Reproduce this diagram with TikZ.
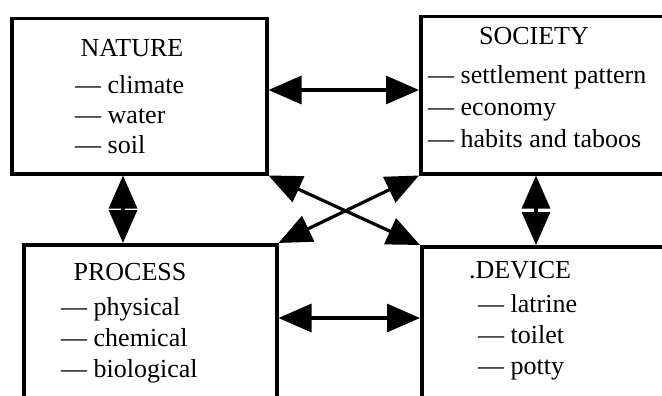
\documentclass[tikz,border=0pt]{standalone}
\usepackage{fontspec}
\setmainfont{Liberation Serif}
\usetikzlibrary{arrows.meta}

\begin{document}
\begin{tikzpicture}[x=1pt,y=-1pt,
  box/.style={draw,line width=3.5pt,anchor=north west,inner sep=0pt},
  title/.style={font=\fontsize{26}{30}\selectfont,anchor=base,inner sep=0pt},
  items/.style={font=\fontsize{26}{31}\selectfont,align=left,anchor=north west,inner sep=0pt},
  link/.style={{Triangle[length=33pt,width=28pt]}-{Triangle[length=33pt,width=28pt]},line width=3.2pt}]
\useasboundingbox (0,0) rectangle (662,396);
\clip (0,0) rectangle (662,396);
% the four boxes
\node[box,minimum width=255pt,minimum height=155pt] (nature)  at (10,17)  {};
\node[box,minimum width=300pt,minimum height=157pt] (society) at (419,15) {};
\node[box,minimum width=253pt,minimum height=200pt] (process) at (22,243)  {};
\node[box,minimum width=300pt,minimum height=200pt] (device)  at (420,245) {};
% texts
\node[title] (natureT)  at (132,57)  {NATURE};
\node[items,font=\fontsize{26}{30}\selectfont] (natureL) at (75,75) {--- climate\\--- water\\--- soil};
\node[title] (societyT) at (534,45)  {SOCIETY};
\node[items,font=\fontsize{26}{32}\selectfont] (societyL) at (428,65) {--- settlement pattern\\--- economy\\--- habits and taboos};
\node[title] (processT) at (130,280) {PROCESS};
\node[items] (processL) at (61,297) {--- physical\\--- chemical\\--- biological};
\node[title,anchor=base west] (deviceT) at (469,278) {.DEVICE};
\node[items] (deviceL) at (478,294) {--- latrine\\--- toilet\\--- potty};
% connectors
\coordinate (lx) at (123,0);
\coordinate (rx) at (536,0);
\coordinate (ty) at (0,90);
\coordinate (by) at (0,318);
\draw[link] (nature.east |- ty) -- (society.west |- ty);
\draw[link] (nature.south -| lx) -- (process.north -| lx);
\draw[link] (society.south -| rx) -- (device.north -| rx);
\draw[link] (process.east |- by) -- (device.west |- by);
\draw[link] (nature.south east) -- (device.north west);
\draw[link] (society.south west) -- (process.north east);
\end{tikzpicture}
\end{document}
